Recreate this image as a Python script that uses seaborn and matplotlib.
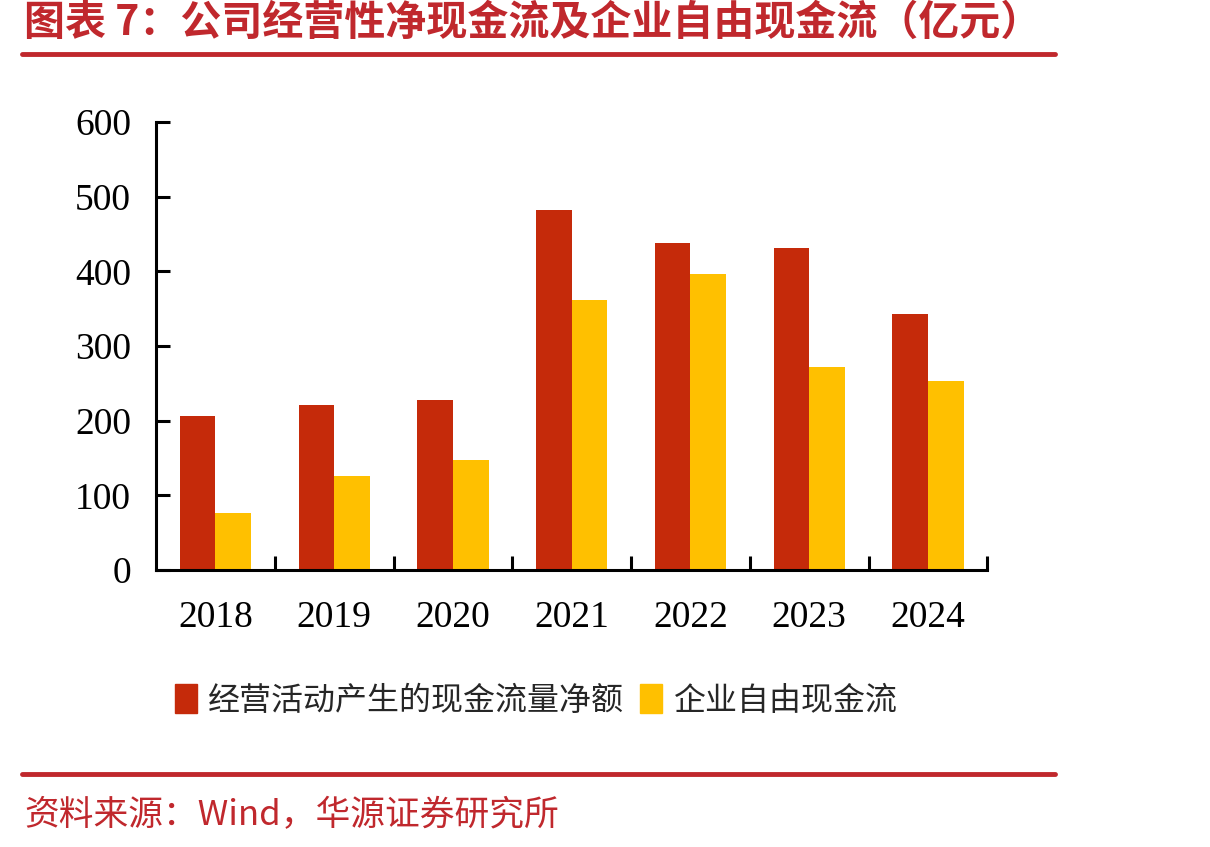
import matplotlib
matplotlib.use("Agg")
import matplotlib.pyplot as plt
import seaborn as sns
import pandas as pd
from matplotlib.lines import Line2D

# data (亿元)
years = ["2018", "2019", "2020", "2021", "2022", "2023", "2024"]
operating_cf = [206, 221, 228, 482, 438, 431, 343]
free_cf = [76, 126, 147, 362, 396, 272, 253]
series_names = ["经营活动产生的现金流量净额", "企业自由现金流"]

title = "图表 7：公司经营性净现金流及企业自由现金流（亿元）"
source = "资料来源：Wind，华源证券研究所"

red = "#C52A0A"
yellow = "#FFC000"
brand = "#C0282D"

df = pd.DataFrame({
    "year": years * 2,
    "value": operating_cf + free_cf,
    "series": [series_names[0]] * len(years) + [series_names[1]] * len(years),
})

sns.set_style("white")
plt.rcParams["font.family"] = ["Noto Sans CJK SC", "DejaVu Sans"]

fig = plt.figure(figsize=(12.1, 8.47), dpi=100)
ax = fig.add_axes([0.129, 0.327, 0.687, 0.529])

sns.barplot(data=df, x="year", y="value", hue="series", palette=[red, yellow],
            width=0.6, gap=0, saturation=1, ax=ax, legend=False, linewidth=0)

ax.set_ylim(0, 600)
ax.set_xlim(-0.5, len(years) - 0.5)
ax.set_yticks(range(0, 601, 100))
ax.set_xlabel("")
ax.set_ylabel("")
sns.despine(ax=ax)
for s in ["left", "bottom"]:
    ax.spines[s].set_linewidth(2.2)
    ax.spines[s].set_color("black")

ax.tick_params(axis="y", left=True, direction="in", length=10, width=2.2, pad=18,
               labelsize=27, color="black", labelcolor="black")
ax.tick_params(axis="x", which="major", bottom=True, length=0, pad=22, labelsize=27,
               labelcolor="black")
ax.set_xticks([i + 0.5 for i in range(len(years))], minor=True)
ax.tick_params(axis="x", which="minor", bottom=True, direction="in", length=10, width=2.2,
               color="black")
for lab in ax.get_xticklabels() + ax.get_yticklabels():
    lab.set_family("Liberation Serif")

handles = [plt.Rectangle((0, 0), 1, 1, color=red), plt.Rectangle((0, 0), 1, 1, color=yellow)]
fig.legend(handles, series_names, loc="center", bbox_to_anchor=(0.443, 0.173), ncol=2,
           frameon=False, fontsize=23, handlelength=0.7, handleheight=1.0,
           handletextpad=0.35, columnspacing=0.5)

fig.text(0.02, 0.973, title, color=brand, fontsize=29.5, fontweight="bold", va="center", ha="left")
fig.add_artist(Line2D([0.018, 0.872], [0.936, 0.936], color=brand, lw=3.5))
fig.add_artist(Line2D([0.018, 0.872], [0.086, 0.086], color=brand, lw=3.5))
fig.text(0.02, 0.037, source, color=brand, fontsize=25, va="center", ha="left")

fig.savefig("out.png", dpi=100)
